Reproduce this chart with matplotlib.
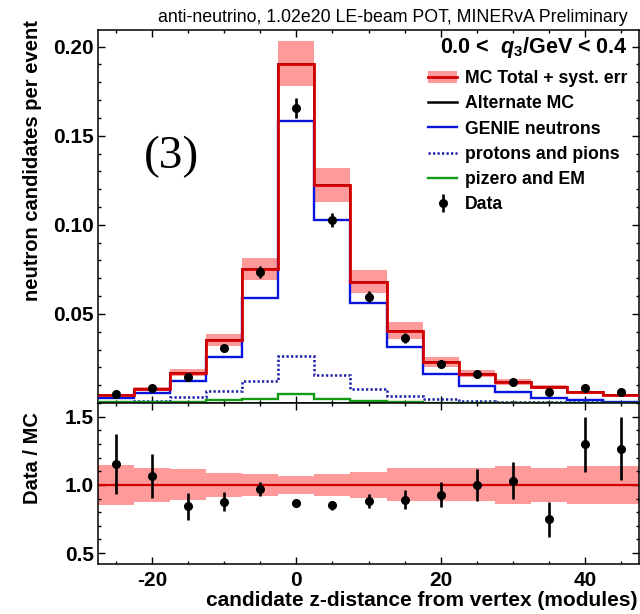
import numpy as np
import matplotlib
matplotlib.use("Agg")
import matplotlib.pyplot as plt
from matplotlib.patches import Patch
from matplotlib.lines import Line2D
from matplotlib.ticker import MultipleLocator

plt.rcParams['font.family'] = ['Liberation Sans', 'DejaVu Sans']
plt.rcParams['mathtext.fontset'] = 'custom'
plt.rcParams['mathtext.it'] = 'Liberation Sans:italic:bold'
plt.rcParams['mathtext.rm'] = 'Liberation Sans:bold'
plt.rcParams['mathtext.bf'] = 'Liberation Sans:bold'
plt.rcParams['axes.unicode_minus'] = False

# ---------------- data ----------------
bin_centers = [-25, -20, -15, -10, -5, 0, 5, 10, 15, 20, 25, 30, 35, 40, 45]
bin_edges = [-27.5, -22.5, -17.5, -12.5, -7.5, -2.5, 2.5, 7.5, 12.5, 17.5,
             22.5, 27.5, 32.5, 37.5, 42.5, 47.5]
mc_total = [0.0045, 0.0079, 0.0170, 0.0354, 0.0753, 0.1905, 0.1221, 0.0680,
            0.0405, 0.0232, 0.0163, 0.0116, 0.0088, 0.0060, 0.0045]
alternate_mc = [0.0045, 0.0079, 0.0170, 0.0354, 0.0753, 0.1905, 0.1221, 0.0680,
                0.0405, 0.0232, 0.0163, 0.0116, 0.0088, 0.0060, 0.0045]
genie_neutrons = [0.0030, 0.0058, 0.0125, 0.0260, 0.0590, 0.1585, 0.1025, 0.0560,
                  0.0317, 0.0163, 0.0097, 0.0062, 0.0030, 0.0015, 0.0006]
protons_pions = [0.0008, 0.0011, 0.0032, 0.0067, 0.0125, 0.0264, 0.0157, 0.0079,
                 0.0041, 0.0020, 0.0010, 0.0006, 0.0005, 0.0005, 0.0005]
pizero_em = [0.0003, 0.0004, 0.0005, 0.0015, 0.0024, 0.0050, 0.0024, 0.0011,
             0.0008, 0.0000, 0.0000, 0.0000, 0.0000, 0.0000, 0.0000]
syst_frac = [0.148, 0.127, 0.114, 0.089, 0.082, 0.065, 0.078, 0.096,
             0.120, 0.120, 0.120, 0.138, 0.125, 0.138, 0.138]
data = [0.0049, 0.0083, 0.0146, 0.0307, 0.0734, 0.1656, 0.1028, 0.0597,
        0.0363, 0.0219, 0.0163, 0.0120, 0.0062, 0.0083, 0.0060]
data_err = [0.0010, 0.0012, 0.0015, 0.0021, 0.0035, 0.0055, 0.0038, 0.0030,
            0.0027, 0.0020, 0.0018, 0.0016, 0.0012, 0.0012, 0.0010]
ratio = [1.151, 1.067, 0.844, 0.875, 0.971, 0.868, 0.849, 0.880,
         0.892, 0.928, 1.000, 1.031, 0.748, 1.296, 1.264]
ratio_err = [0.22, 0.16, 0.10, 0.07, 0.05, 0.02, 0.03, 0.05,
             0.07, 0.09, 0.115, 0.135, 0.13, 0.20, 0.23]

RED = '#d40000'
PINK = '#ff9a9a'
BLUE = '#0a14e0'
NAVY = '#1a1aa8'
GREEN = '#139913'
DOTS = (0, (0.9, 0.9))

W, H = 640, 614
fig = plt.figure(figsize=(W / 100, H / 100), dpi=100)
ax = fig.add_axes([98 / W, 1 - 403 / H, 541 / W, 373 / H])
axr = fig.add_axes([98 / W, 1 - 564 / H, 541 / W, 161 / H])

edges = np.array(bin_edges)
mc = np.array(mc_total)
frac = np.array(syst_frac)

# ---------------- top panel ----------------
ax.stairs(mc * (1 + frac), edges, baseline=mc * (1 - frac), fill=True,
          color=PINK, lw=0, zorder=1)
ax.stairs(alternate_mc, edges, baseline=None, color='black', lw=1.2, zorder=2)
ax.stairs(mc_total, edges, baseline=None, color=RED, lw=2.0, zorder=5)
ax.stairs(genie_neutrons, edges, baseline=None, color=BLUE, lw=1.7, zorder=4)
ax.stairs(protons_pions, edges, baseline=None, color=NAVY, lw=1.8,
          linestyle=DOTS, zorder=4)
ax.stairs(pizero_em, edges, baseline=None, color=GREEN, lw=1.7, zorder=4)
eb = ax.errorbar(bin_centers, data, yerr=data_err, fmt='o', color='black',
                 ms=5.5, elinewidth=1.9, capsize=0, zorder=6)

ax.set_xlim(-27.5, 47.5)
ax.set_ylim(0, 0.2093)
ax.yaxis.set_major_locator(MultipleLocator(0.05))
ax.yaxis.set_minor_locator(MultipleLocator(0.01))
ax.xaxis.set_major_locator(MultipleLocator(20))
ax.xaxis.set_minor_locator(MultipleLocator(5))
ax.set_yticks([0.05, 0.10, 0.15, 0.20])
ax.set_yticklabels(['0.05', '0.10', '0.15', '0.20'])
ax.tick_params(labelbottom=False)

# ---------------- ratio panel ----------------
ratio_up = 1 + frac
ratio_dn = 1 - frac
axr.stairs(ratio_up, edges, baseline=ratio_dn, fill=True, color=PINK, lw=0, zorder=1)
axr.axhline(1.0, color=RED, lw=1.6, zorder=2)
axr.errorbar(bin_centers, ratio, yerr=ratio_err, fmt='o', color='black',
             ms=5.5, elinewidth=1.9, capsize=0, zorder=6)
axr.set_xlim(-27.5, 47.5)
axr.set_ylim(0.42, 1.6)
axr.yaxis.set_major_locator(MultipleLocator(0.5))
axr.yaxis.set_minor_locator(MultipleLocator(0.1))
axr.xaxis.set_major_locator(MultipleLocator(20))
axr.xaxis.set_minor_locator(MultipleLocator(5))
axr.set_yticks([0.5, 1.0, 1.5])
axr.set_yticklabels(['0.5', '1.0', '1.5'])

for a in (ax, axr):
    a.tick_params(which='both', direction='in', top=True, right=True,
                  labelsize=15, width=1.0, pad=3)
    a.tick_params(which='major', length=5)
    a.tick_params(which='minor', length=2.5)
    for lab in a.get_xticklabels() + a.get_yticklabels():
        lab.set_fontweight('bold')
    for s in a.spines.values():
        s.set_linewidth(1.1)
axr.tick_params(axis='x', pad=5)

# ---------------- texts ----------------
fig.text(33 / W, 1 - 161 / H, 'neutron candidates per event', rotation=90,
         ha='center', va='center', fontsize=14.5, fontweight='bold')
fig.text(33 / W, 1 - 458 / H, 'Data / MC', rotation=90,
         ha='center', va='center', fontsize=14.5, fontweight='bold')
fig.text(638 / W, 1 - 600 / H, 'candidate z-distance from vertex (modules)',
         ha='right', va='center', fontsize=15, fontweight='bold')
fig.text(628 / W, 1 - 22 / H,
         'anti-neutrino, 1.02e20 LE-beam POT, MINERvA Preliminary',
         ha='right', va='baseline', fontsize=12.8)
fig.text(171 / W, 1 - 157 / H, '(3)', ha='center', va='center',
         fontsize=34, family=['Liberation Serif', 'DejaVu Serif'])
fig.text(628 / W, 1 - 48 / H, r'0.0 <  $q_3$/GeV < 0.4', ha='right',
         va='center', fontsize=15.5, fontweight='bold')

handles = [
    (Patch(facecolor=PINK, edgecolor='none'), Line2D([], [], color=RED, lw=2.0)),
    Line2D([], [], color='black', lw=1.8),
    Line2D([], [], color=BLUE, lw=1.7),
    Line2D([], [], color=NAVY, lw=1.8, linestyle=DOTS),
    Line2D([], [], color=GREEN, lw=1.7),
    eb,
]
labels = ['MC Total + syst. err', 'Alternate MC', 'GENIE neutrons',
          'protons and pions', 'pizero and EM', 'Data']
leg = fig.legend(handles, labels, loc='upper left',
                 bbox_to_anchor=(428 / W, 1 - 70 / H), frameon=False,
                 borderpad=0, borderaxespad=0, handlelength=1.65,
                 handletextpad=0.45, labelspacing=0.47,
                 prop={'size': 12.7, 'weight': 'bold'})

fig.savefig('out.png', dpi=100)
